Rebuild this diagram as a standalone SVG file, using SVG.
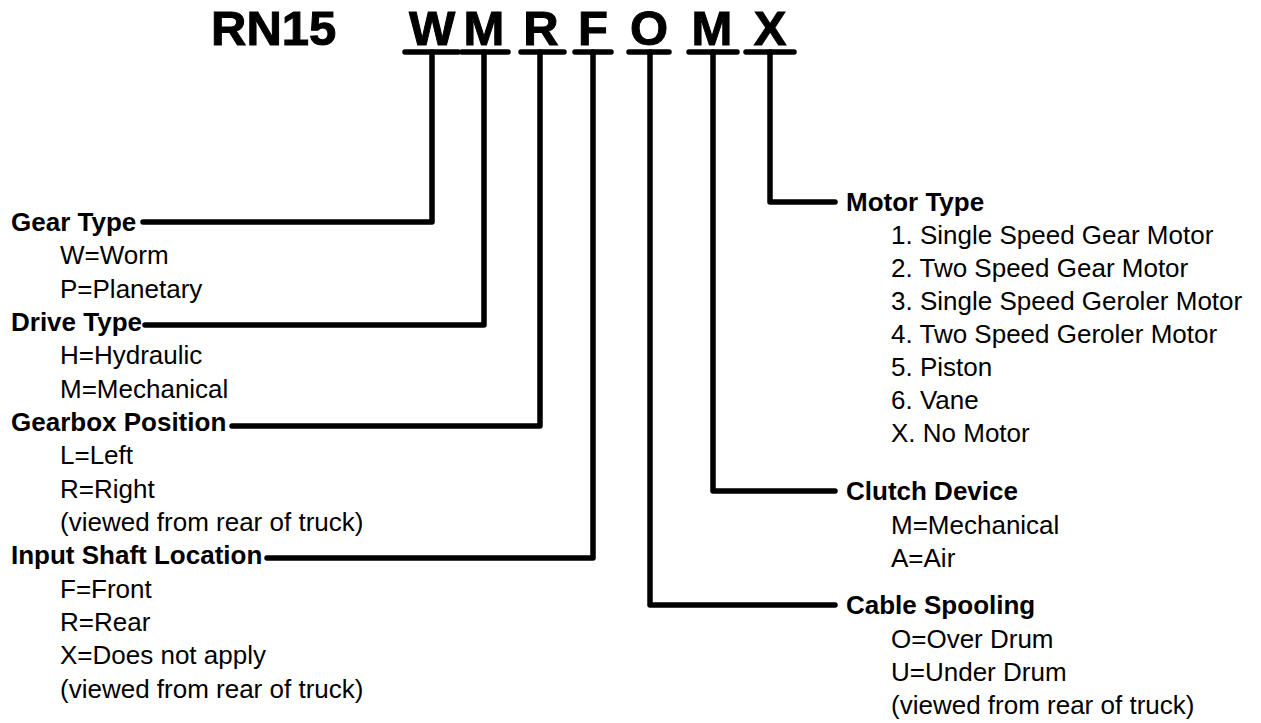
<svg xmlns="http://www.w3.org/2000/svg" width="1261" height="723" viewBox="0 0 1261 723">
<style>
.t{font-family:"Liberation Sans",Arial,sans-serif;font-size:49px;font-weight:bold;fill:#000;stroke:#000;stroke-width:1}
.code{font-family:"Liberation Sans",Arial,sans-serif;font-size:49px;font-weight:bold;fill:#000;stroke:#000;stroke-width:1;text-anchor:middle}
.h{font-family:"Liberation Sans",Arial,sans-serif;font-size:26px;font-weight:bold;fill:#000}
.i{font-family:"Liberation Sans",Arial,sans-serif;font-size:26px;fill:#000}
.ln{fill:none;stroke:#000;stroke-width:5.5;stroke-linecap:round;stroke-linejoin:round}
</style>
<rect width="1261" height="723" fill="#fff"/>
<g id="title">
<text class="t" x="211" y="45">RN15</text>
<text class="code" x="432" y="45">W</text>
<text class="code" x="484" y="45">M</text>
<text class="code" x="541" y="45">R</text>
<text class="code" x="593" y="45">F</text>
<text class="code" x="649" y="45">O</text>
<text class="code" x="712" y="45">M</text>
<text class="code" x="770" y="45">X</text>
</g>
<g id="connectors" class="ln">
<path d="M405 52H458M462 52H508M521 52H564M575 52H611M629 52H669M689 52H737M746 52H794"/>
<path d="M432 52V222H143"/>
<path d="M484 52V325H145"/>
<path d="M540 52V426H232"/>
<path d="M593 52V558H267"/>
<path d="M770 52V202H835"/>
<path d="M713 52V491H835"/>
<path d="M650 52V605H835"/>
</g>
<g id="gear-type">
<text class="h" x="11" y="231">Gear Type</text>
<text class="i" x="60" y="264">W=Worm</text>
<text class="i" x="60" y="298">P=Planetary</text>
</g>
<g id="drive-type">
<text class="h" x="11" y="331">Drive Type</text>
<text class="i" x="60" y="364">H=Hydraulic</text>
<text class="i" x="60" y="398">M=Mechanical</text>
</g>
<g id="gearbox-position">
<text class="h" x="11" y="431">Gearbox Position</text>
<text class="i" x="60" y="464">L=Left</text>
<text class="i" x="60" y="498">R=Right</text>
<text class="i" x="60" y="531">(viewed from rear of truck)</text>
</g>
<g id="input-shaft">
<text class="h" x="11" y="564">Input Shaft Location</text>
<text class="i" x="60" y="598">F=Front</text>
<text class="i" x="60" y="631">R=Rear</text>
<text class="i" x="60" y="664">X=Does not apply</text>
<text class="i" x="60" y="698">(viewed from rear of truck)</text>
</g>
<g id="motor-type">
<text class="h" x="846" y="211">Motor Type</text>
<text class="i" x="891" y="244">1. Single Speed Gear Motor</text>
<text class="i" x="891" y="277">2. Two Speed Gear Motor</text>
<text class="i" x="891" y="310">3. Single Speed Geroler Motor</text>
<text class="i" x="891" y="343">4. Two Speed Geroler Motor</text>
<text class="i" x="891" y="376">5. Piston</text>
<text class="i" x="891" y="409">6. Vane</text>
<text class="i" x="891" y="442">X. No Motor</text>
</g>
<g id="clutch-device">
<text class="h" x="846" y="500">Clutch Device</text>
<text class="i" x="891" y="534">M=Mechanical</text>
<text class="i" x="891" y="567">A=Air</text>
</g>
<g id="cable-spooling">
<text class="h" x="846" y="614">Cable Spooling</text>
<text class="i" x="891" y="648">O=Over Drum</text>
<text class="i" x="891" y="681">U=Under Drum</text>
<text class="i" x="891" y="714">(viewed from rear of truck)</text>
</g>
</svg>
